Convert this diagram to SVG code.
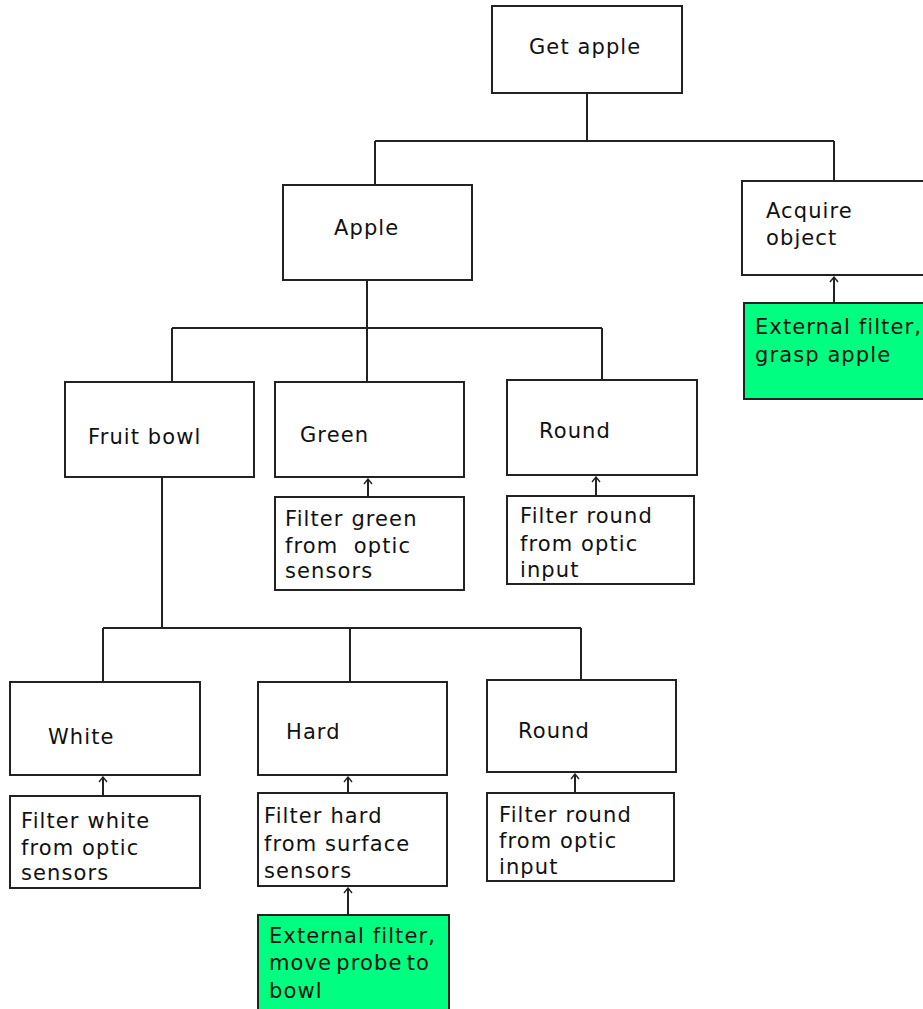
<svg xmlns="http://www.w3.org/2000/svg" width="923" height="1009" viewBox="0 0 923 1009">
<style>
.box{fill:#fff;stroke:#222;stroke-width:2}
.grn{fill:#00ff80;stroke:#222;stroke-width:2}
.t{font-family:"DejaVu Sans",Verdana,sans-serif;font-size:21px;letter-spacing:1.1px;fill:#111}
.c{fill:none;stroke:#222;stroke-width:2}
</style>
<defs>
<marker id="ah" viewBox="0 0 10 10" refX="9" refY="5" markerWidth="10" markerHeight="10" markerUnits="userSpaceOnUse" orient="auto">
<path d="M4,1 L9,5 L4,9" fill="none" stroke="#222" stroke-width="1.4"/>
</marker>
</defs>
<rect width="923" height="1009" fill="#fff"/>
<g id="connectors">
<path class="c" d="M587,93 V141 M375,141 H834 M375,141 V185 M834,141 V181"/>
<path class="c" d="M367,280 V382 M172,328 H602 M172,328 V382 M602,328 V380"/>
<path class="c" d="M162,477 V628 M103,628 H581 M103,628 V682 M350,628 V682 M581,628 V680"/>
<line class="c" x1="834" y1="303" x2="834" y2="277" marker-end="url(#ah)"/>
<line class="c" x1="368" y1="497" x2="368" y2="479" marker-end="url(#ah)"/>
<line class="c" x1="596" y1="496" x2="596" y2="477" marker-end="url(#ah)"/>
<line class="c" x1="103" y1="796" x2="103" y2="777" marker-end="url(#ah)"/>
<line class="c" x1="348" y1="793" x2="348" y2="777" marker-end="url(#ah)"/>
<line class="c" x1="348" y1="915" x2="348" y2="888" marker-end="url(#ah)"/>
<line class="c" x1="575" y1="793" x2="575" y2="774" marker-end="url(#ah)"/>
</g>
<g id="get-apple"><rect class="box" x="492" y="6" width="190" height="87"/><text class="t" x="529" y="54">Get apple</text></g>
<g id="apple"><rect class="box" x="283" y="185" width="189" height="95"/><text class="t" x="334" y="235">Apple</text></g>
<g id="acquire-object"><rect class="box" x="742" y="181" width="190" height="94"/><text class="t" x="766" y="218">Acquire</text><text class="t" x="766" y="245">object</text></g>
<g id="grasp-apple"><rect class="grn" x="744" y="303" width="190" height="96"/><text class="t" x="755" y="334">External filter,</text><text class="t" x="755" y="362">grasp apple</text></g>
<g id="fruit-bowl"><rect class="box" x="65" y="382" width="189" height="95"/><text class="t" x="88" y="444">Fruit bowl</text></g>
<g id="green"><rect class="box" x="275" y="382" width="189" height="95"/><text class="t" x="300" y="442">Green</text></g>
<g id="filter-green"><rect class="box" x="275" y="497" width="189" height="93"/><text class="t" x="285" y="526">Filter green</text><text class="t" x="285" y="553" xml:space="preserve">from  optic</text><text class="t" x="285" y="578">sensors</text></g>
<g id="round-1"><rect class="box" x="507" y="380" width="190" height="95"/><text class="t" x="539" y="438">Round</text></g>
<g id="filter-round-1"><rect class="box" x="507" y="496" width="187" height="88"/><text class="t" x="520" y="523">Filter round</text><text class="t" x="520" y="551">from optic</text><text class="t" x="520" y="577">input</text></g>
<g id="white"><rect class="box" x="10" y="682" width="190" height="93"/><text class="t" x="48" y="744">White</text></g>
<g id="filter-white"><rect class="box" x="10" y="796" width="190" height="92"/><text class="t" x="21" y="828">Filter white</text><text class="t" x="21" y="855">from optic</text><text class="t" x="21" y="880">sensors</text></g>
<g id="hard"><rect class="box" x="258" y="682" width="189" height="93"/><text class="t" x="286" y="739">Hard</text></g>
<g id="filter-hard"><rect class="box" x="258" y="793" width="189" height="93"/><text class="t" x="264" y="823">Filter hard</text><text class="t" x="264" y="851">from surface</text><text class="t" x="264" y="878">sensors</text></g>
<g id="move-probe"><rect class="grn" x="258" y="915" width="191" height="100"/><text class="t" x="269" y="943">External filter,</text><text class="t" x="269" y="970" word-spacing="-3.5">move probe to</text><text class="t" x="269" y="998">bowl</text></g>
<g id="round-2"><rect class="box" x="487" y="680" width="189" height="92"/><text class="t" x="518" y="738">Round</text></g>
<g id="filter-round-2"><rect class="box" x="487" y="793" width="187" height="88"/><text class="t" x="499" y="822">Filter round</text><text class="t" x="499" y="848">from optic</text><text class="t" x="499" y="874">input</text></g>
</svg>
